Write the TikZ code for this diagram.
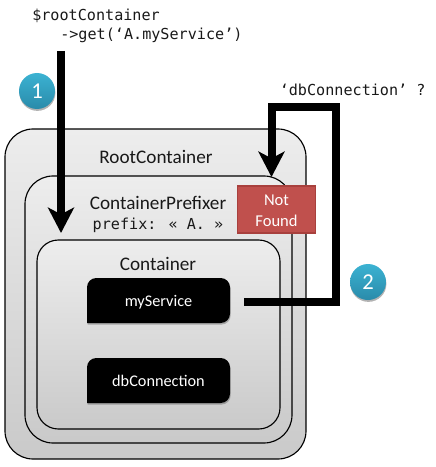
\documentclass[tikz,border=0pt]{standalone}
\usepackage{fontspec}
\setmainfont{Carlito}
\newfontfamily\codefont{DejaVu Sans Mono}
\usetikzlibrary{arrows.meta,shadows,calc}
\definecolor{notfill}{HTML}{C0504D}
\definecolor{notedge}{HTML}{A8403D}
\definecolor{badgetop}{HTML}{3BB2D2}
\definecolor{badgebot}{HTML}{2A8BAA}
\tikzset{
  cont/.style={draw=black,line width=0.85pt,top color=black!7,bottom color=black!21,inner sep=0pt},
  label/.style={font=\fontsize{14.4pt}{17pt}\selectfont,text=black!90,inner sep=0pt},
  code/.style={font=\codefont\fontsize{11.35pt}{14pt}\selectfont,text=black!90,inner sep=0pt},
  svcfill/.style={fill=black,drop shadow={shadow xshift=0.5pt,shadow yshift=-1.2pt,opacity=0.25,fill=black}},
  svc/.style={text=white,font=\fontsize{12.2pt}{15pt}\selectfont,inner sep=0pt,minimum width=107.25pt},
  missbox/.style={fill=notfill,draw=notedge,line width=1.3pt,minimum width=58.5pt,minimum height=35.5pt,inner sep=0pt},
  misstext/.style={text=white,align=center,font=\fontsize{12.4pt}{15.6pt}\selectfont,inner sep=0pt},
  badge/.style={circle,minimum size=27pt,inner sep=0pt,top color=badgetop,bottom color=badgebot,text=white,
    font=\fontsize{17pt}{20pt}\selectfont,drop shadow={shadow xshift=0.3pt,shadow yshift=-1.4pt,opacity=0.3,fill=black}},
  flow/.style={line width=6pt,draw=black,line join=miter,-{Stealth[length=19pt,width=19.5pt,inset=5pt]}}
}
\begin{document}
\begin{tikzpicture}[x=0.75pt,y=-0.75pt]
\path[use as bounding box] (0,0) rectangle (435,467);
% containers
\node[cont,rounded corners=21pt,minimum width=225.75pt,minimum height=247.5pt] (root) at (155.5,294) {};
\node[cont,rounded corners=21pt,minimum width=200.25pt,minimum height=200.25pt] (prefixer) at (158.5,309.5) {};
\node[cont,rounded corners=16pt,minimum width=182.25pt,minimum height=141.75pt] (container) at (158.5,334.5) {};
% service boxes: rounded on two diagonal corners
\fill[svcfill] (87,323) -- (87,290) [rounded corners=7pt] -- (87,278) -- (230,278) [sharp corners] -- (230,310) [rounded corners=7pt] -- (230,323) [sharp corners] -- cycle;
\fill[svcfill] (87,403) -- (87,370) [rounded corners=7pt] -- (87,358) -- (230,358) [sharp corners] -- (230,390) [rounded corners=7pt] -- (230,403) [sharp corners] -- cycle;
\node[svc] (myservice) at (158.5,302) {myService};
\node[svc] (dbconn) at (158.5,381) {dbConnection};
% labels
\node[label] (rootlabel) at (156,157) {RootContainer};
\node[label] (prefixerlabel) at (158,203) {ContainerPrefixer};
\node[code] (prefixval) at (158,225) {prefix: « A. »};
\node[label] (containerlabel) at (158,264) {Container};
\node[missbox] (notfound) at (276.5,209.5) {};
\node[misstext] (notfoundtext) at (276.5,211) {Not\\Found};
% code text
\node[code,anchor=west] (call1) at (32,16) {\$rootContainer};
\node[code,anchor=west] (call2) at (60,35) {->get(‘A.myService’)};
\node[code,anchor=west] (question) at (279.5,90) {‘dbConnection’ ?};
% badges
\node[badge] (one) at (37,91) {1};
\node[badge] (two) at (368,282) {2};
% connectors
\coordinate (start1) at (61,51);
\coordinate (end1) at (61,233);
\coordinate (bendA) at (336,302);
\coordinate (bendB) at (336,106.5);
\coordinate (bendC) at (271.5,106.5);
\coordinate (end2) at (271.5,177);
\draw[flow] (start1) -- (end1);
\draw[flow,shorten <=10.5pt] (myservice.east) -- (bendA) -- (bendB) -- (bendC) -- (end2);
\end{tikzpicture}
\end{document}
